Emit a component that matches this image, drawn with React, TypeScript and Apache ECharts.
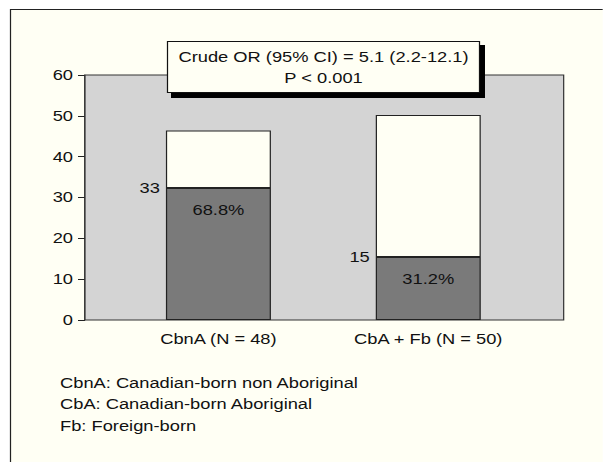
import React, { useEffect, useRef } from "react";
import * as echarts from "echarts";

const categories = ["CbnA (N = 48)", "CbA + Fb (N = 50)"];
const positiveValues = [32.3, 15.4];
const barTotals = [46.4, 50.2];
const countLabels = ["33", "15"];
const percentLabels = ["68.8%", "31.2%"];
const yTicks = { min: 0, max: 60, interval: 10 };
const annotationLines = ["Crude OR (95% CI) = 5.1 (2.2-12.1)", "P < 0.001"];
const footnotes = [
  "CbnA: Canadian-born non Aboriginal",
  "CbA: Canadian-born Aboriginal",
  "Fb: Foreign-born",
];

const FONT = "'Liberation Sans', Arial, Helvetica, sans-serif";
const CREAM = "#fffff4";
const TEXT = "#111111";
// The reference is horizontally stretched; render narrower and stretch.
const S = 1.22;
const W = 603 / S;
const X = (px: number) => px / S;

export default function App() {
  const ref = useRef<HTMLDivElement>(null);
  useEffect(() => {
    if (!ref.current) return;
    const chart = echarts.init(ref.current, null, { renderer: "svg" });
    const remainder = barTotals.map((t, i) => +(t - positiveValues[i]).toFixed(2));
    chart.setOption({
      animation: false,
      backgroundColor: "#ffffff",
      textStyle: { fontFamily: FONT },
      grid: [
        {
          left: X(85), right: W - X(564), top: 75, bottom: 142,
          show: true, backgroundColor: "#d4d4d4", borderColor: "#333333", borderWidth: 1,
          z: 1,
        },
        { left: X(113.5), right: W - X(533.5), top: 75, bottom: 142 },
      ],
      xAxis: [
        { gridIndex: 0, type: "value", min: 0, max: 1, show: false },
        {
          gridIndex: 1, type: "category", data: categories,
          axisLine: { show: false }, axisTick: { show: false },
          axisLabel: { color: TEXT, fontSize: 15, fontFamily: FONT, margin: 12 },
        },
      ],
      yAxis: [
        {
          gridIndex: 0, type: "value", min: yTicks.min, max: yTicks.max, interval: yTicks.interval,
          axisLine: { show: true, lineStyle: { color: "#222222", width: 1 } },
          axisTick: { show: true, length: X(7), lineStyle: { color: "#222222" } },
          splitLine: { show: false },
          axisLabel: { color: TEXT, fontSize: 15, fontFamily: FONT, margin: X(12) },
        },
        { gridIndex: 1, type: "value", min: yTicks.min, max: yTicks.max, show: false },
      ],
      graphic: [
        {
          type: "rect", z: -10, silent: true,
          shape: { x: X(10.5), y: 9.5, width: 700, height: 600 },
          style: { fill: CREAM, stroke: "#222222", lineWidth: 1 },
        },
        {
          type: "rect", z: 50,
          shape: { x: X(171), y: 45, width: X(314), height: 53 },
          style: { fill: "#000000" },
        },
        {
          type: "rect", z: 51,
          shape: { x: X(167.5), y: 41.5, width: X(312), height: 51 },
          style: { fill: CREAM, stroke: "#111111", lineWidth: 1 },
        },
        {
          type: "text", z: 52, x: X(323.5), y: 57,
          style: { text: annotationLines[0], fill: TEXT, font: `15px ${FONT}`, textAlign: "center", textVerticalAlign: "middle" },
        },
        {
          type: "text", z: 52, x: X(323.5), y: 78,
          style: { text: annotationLines[1], fill: TEXT, font: `15px ${FONT}`, textAlign: "center", textVerticalAlign: "middle" },
        },
        ...footnotes.map((t, i) => ({
          type: "text", z: 52, x: X(60), y: 383 + i * 21.5,
          style: { text: t, fill: TEXT, font: `15px ${FONT}`, textAlign: "left", textVerticalAlign: "middle" },
        })),
      ],
      series: [
        {
          type: "bar", xAxisIndex: 1, yAxisIndex: 1, stack: "s", barWidth: X(105),
          data: positiveValues,
          itemStyle: { color: "#7a7a7a", borderColor: "#222222", borderWidth: 1 },
          label: {
            show: true, position: "insideTop", distance: 14, color: TEXT, fontSize: 15, fontFamily: FONT,
            formatter: (p: any) => percentLabels[p.dataIndex],
          },
          z: 3,
        },
        {
          type: "bar", xAxisIndex: 1, yAxisIndex: 1, stack: "s", barWidth: X(105),
          data: remainder,
          itemStyle: { color: CREAM, borderColor: "#222222", borderWidth: 1 },
          label: {
            show: true, position: [-X(6), "100%"], align: "right", verticalAlign: "middle",
            color: TEXT, fontSize: 15, fontFamily: FONT,
            formatter: (p: any) => countLabels[p.dataIndex],
          },
          z: 3,
        },
      ],
    });
    return () => chart.dispose();
  }, []);
  return (
    <div style={{ position: "fixed", left: 0, top: 0, width: 603, height: 462, overflow: "hidden", background: "#ffffff" }}>
      <div
        ref={ref}
        style={{ width: W, height: 462, transform: `scaleX(${S})`, transformOrigin: "0 0" }}
      />
    </div>
  );
}
